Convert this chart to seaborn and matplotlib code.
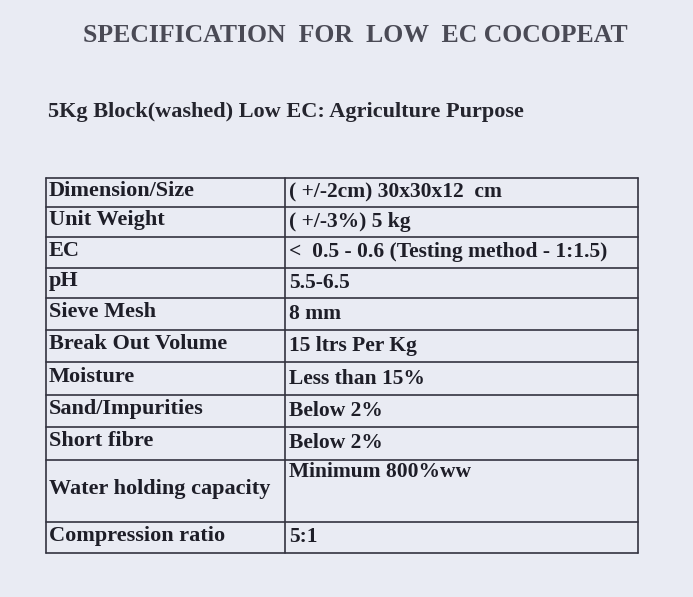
import matplotlib
matplotlib.use("Agg")
import matplotlib.pyplot as plt
import seaborn as sns

sns.set_theme(style="white")
plt.rcParams['font.family'] = ['Liberation Serif', 'DejaVu Serif']

title = "SPECIFICATION  FOR  LOW  EC COCOPEAT"
subtitle = "5Kg Block(washed) Low EC: Agriculture Purpose"
params = ["Dimension/Size", "Unit Weight", "EC", "pH", "Sieve Mesh", "Break Out Volume",
          "Moisture", "Sand/Impurities", "Short fibre", "Water holding capacity", "Compression ratio"]
values = ["( +/-2cm) 30x30x12  cm", "( +/-3%) 5 kg", "<  0.5 - 0.6 (Testing method - 1:1.5)",
          "5.5-6.5", "8 mm", "15 ltrs Per Kg", "Less than 15%", "Below 2%", "Below 2%",
          "Minimum 800%ww", "5:1"]
row_edges = [178, 207, 237, 268, 298, 330, 362, 395, 427, 460, 522, 553]

fig = plt.figure(figsize=(6.93, 5.97), dpi=100)
fig.patch.set_facecolor("#e9ebf3")
ax = fig.add_axes([0, 0, 1, 1])
ax.set_facecolor("#e9ebf3")
ax.set_xlim(0, 693); ax.set_ylim(597, 0); ax.axis("off")

ax.text(355, 36, title, ha="center", va="center", fontsize=18.5, fontweight="bold", color="#4a4a55")
ax.text(48, 112, subtitle, ha="left", va="center", fontsize=16, fontweight="bold", color="#25252e")

x0, xm, x1 = 46, 285, 638
for y in row_edges:
    ax.plot([x0, x1], [y, y], color="#333340", lw=1.2)
for x in (x0, xm, x1):
    ax.plot([x, x], [row_edges[0], row_edges[-1]], color="#333340", lw=1.2)

for i, (p, v) in enumerate(zip(params, values)):
    top, bot = row_edges[i], row_edges[i + 1]
    ax.text(x0 + 3, (top + bot) / 2 - 2, p, ha="left", va="center", fontsize=16,
            fontweight="bold", color="#1e1e28")
    vy = top + 12 if p == "Water holding capacity" else (top + bot) / 2
    ax.text(xm + 4, vy, v, ha="left", va="center", fontsize=15.5, fontweight="bold", color="#1e1e28")

fig.savefig("out.png", dpi=100, facecolor=fig.get_facecolor())
